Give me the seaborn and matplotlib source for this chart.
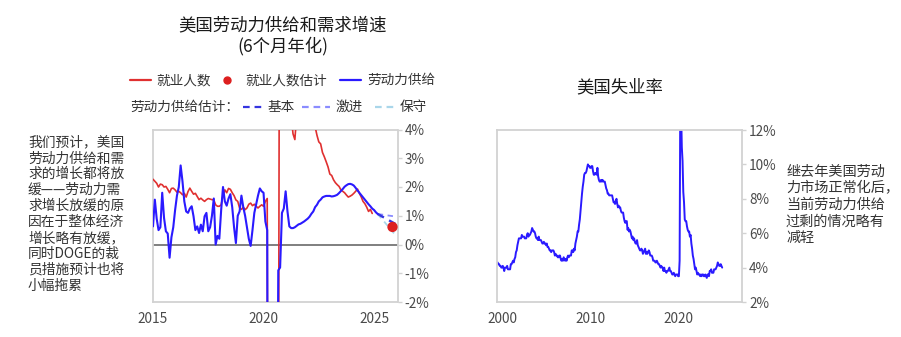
import numpy as np
import pandas as pd
import matplotlib
matplotlib.use("Agg")
import matplotlib.pyplot as plt
import seaborn as sns
from matplotlib.lines import Line2D
from matplotlib.ticker import FuncFormatter

# ---------------- data ----------------
# 6-month annualised payroll growth (%), monthly from 2015-01
employment = [
    2.27, 2.2, 2.13, 2.0, 2.1, 2.08, 2.0, 2.02, 1.92, 1.8, 1.95, 1.96,      # 2015
    1.9, 1.82, 1.85, 1.8, 1.73, 1.78, 1.65, 1.84, 1.96, 1.85, 1.75, 1.78,  # 2016
    1.67, 1.56, 1.61, 1.55, 1.5, 1.56, 1.6, 1.58, 1.56, 1.55, 1.38, 1.33,  # 2017
    1.33, 1.38, 1.7, 1.9, 1.8, 1.95, 1.92, 1.8, 1.7, 1.55, 1.5, 1.27,      # 2018
    1.22, 1.3, 1.21, 1.27, 1.4, 1.44, 1.35, 1.4, 1.33, 1.27, 1.33, 1.38,   # 2019
    1.33, 1.5, 1.6, -30, -28, -22, -18, -14, -10, 20, 14, 9,               # 2020
    7, 5.5, 4.8, 4.5, 3.85, 3.65, 4.5, 5.5, 5.0, 4.6, 5.0, 5.3,            # 2021
    5.3, 5.0, 4.7, 4.4, 4.1, 3.8, 3.57, 3.5, 3.2, 3.05, 2.88, 2.7,         # 2022
    2.45, 2.4, 2.25, 2.15, 2.08, 2.02, 1.9, 1.85, 1.8, 1.72, 1.65, 1.68,   # 2023
    1.72, 1.78, 1.85, 1.93, 1.78, 1.66, 1.5, 1.42, 1.3, 1.15, 1.22, 1.08,  # 2024
]
# 6-month annualised labour supply growth (%), monthly from 2015-01
labor_supply = [
    0.63, 1.56, 0.9, 0.5, 0.6, 1.8, 0.92, 0.46, 0.38, -0.46, 0.25, 0.6,    # 2015
    1.2, 1.7, 2.0, 2.75, 2.2, 1.5, 1.15, 1.1, 1.25, 1.33, 0.98, 0.5,       # 2016
    0.63, 0.4, 0.69, 0.46, 0.98, 1.1, 0.46, 0.6, 1.0, 1.6, 0.0, 0.3,       # 2017
    0.2, 1.2, 2.0, 1.5, 1.35, 1.6, 1.75, 1.3, 0.6, 0.05, 1.0, 1.15,        # 2018
    1.7, 1.3, 1.0, 0.6, 0.2, -0.05, 0.5, 1.1, 1.4, 1.7, 1.95, 1.85,        # 2019
    1.8, 0.8, 0.5, -30, -28, -22, -18, -14, -0.9, -0.8, 1.1, 1.25,         # 2020
    1.85, 1.15, 0.63, 0.57, 0.57, 0.6, 0.65, 0.7, 0.72, 0.76, 0.8, 0.85,   # 2021
    0.9, 0.97, 1.07, 1.15, 1.3, 1.38, 1.5, 1.56, 1.64, 1.67, 1.69, 1.69,   # 2022
    1.69, 1.67, 1.68, 1.7, 1.73, 1.79, 1.86, 1.93, 2.01, 2.06, 2.1, 2.11,  # 2023
    2.09, 2.05, 1.97, 1.88, 1.8, 1.72, 1.64, 1.56, 1.48, 1.4, 1.33, 1.25,  # 2024
    1.2, 1.12, 1.06,                                                        # 2025
]
# labour supply projections: start (2025-03) and end (2026-01)
proj_dates = ["2025-03", "2026-01"]
proj_base = [1.06, 0.70]
proj_aggressive = [1.06, 0.97]
proj_conservative = [1.06, 0.30]
# employment estimate
emp_est_date = "2025-11"
emp_est_value = 0.61

# US unemployment rate (%), monthly from 1999-07
unemployment = [
    4.3, 4.2, 4.2, 4.1, 4.1, 4.0,
    4.0, 4.1, 4.0, 3.8, 4.0, 4.0, 4.0, 4.1, 3.9, 3.9, 3.9, 3.9,
    4.2, 4.2, 4.3, 4.4, 4.3, 4.5, 4.6, 4.9, 5.0, 5.3, 5.5, 5.7,
    5.7, 5.7, 5.7, 5.9, 5.8, 5.8, 5.8, 5.7, 5.7, 5.7, 5.9, 6.0,
    5.8, 5.9, 5.9, 6.0, 6.1, 6.3, 6.2, 6.1, 6.1, 6.0, 5.8, 5.7,
    5.7, 5.6, 5.8, 5.6, 5.6, 5.6, 5.5, 5.4, 5.4, 5.5, 5.4, 5.4,
    5.3, 5.4, 5.2, 5.2, 5.1, 5.0, 5.0, 4.9, 5.0, 5.0, 5.0, 4.9,
    4.7, 4.8, 4.7, 4.7, 4.6, 4.6, 4.7, 4.7, 4.5, 4.4, 4.5, 4.4,
    4.6, 4.5, 4.4, 4.5, 4.4, 4.6, 4.7, 4.6, 4.7, 4.7, 4.7, 5.0,
    5.0, 4.9, 5.1, 5.0, 5.4, 5.6, 5.8, 6.1, 6.1, 6.5, 6.8, 7.3,
    7.8, 8.3, 8.7, 9.0, 9.4, 9.5, 9.5, 9.6, 9.8, 10.0, 9.9, 9.9,
    9.8, 9.8, 9.9, 9.9, 9.6, 9.4, 9.4, 9.5, 9.5, 9.4, 9.8, 9.3,
    9.1, 9.0, 9.0, 9.1, 9.0, 9.1, 9.0, 9.0, 9.0, 8.8, 8.6, 8.5,
    8.3, 8.3, 8.2, 8.2, 8.2, 8.2, 8.2, 8.0, 7.8, 7.8, 7.7, 7.9,
    8.0, 7.7, 7.5, 7.6, 7.5, 7.5, 7.3, 7.2, 7.2, 7.2, 6.9, 6.7,
    6.6, 6.7, 6.7, 6.2, 6.3, 6.1, 6.2, 6.1, 5.9, 5.7, 5.8, 5.6,
    5.7, 5.5, 5.4, 5.4, 5.6, 5.3, 5.2, 5.1, 5.0, 5.0, 5.1, 5.0,
    4.8, 4.9, 5.0, 5.1, 4.8, 4.9, 4.8, 4.9, 5.0, 4.9, 4.7, 4.7,
    4.7, 4.6, 4.4, 4.4, 4.4, 4.3, 4.3, 4.4, 4.3, 4.2, 4.2, 4.1,
    4.0, 4.1, 4.0, 4.0, 3.8, 4.0, 3.8, 3.8, 3.7, 3.8, 3.8, 3.9,
    4.0, 3.8, 3.8, 3.7, 3.6, 3.6, 3.7, 3.6, 3.5, 3.6, 3.6, 3.6,
    3.5, 3.5, 4.4, 14.8, 13.2, 11.0, 10.2, 8.4, 7.8, 6.8, 6.7, 6.7,
    6.4, 6.2, 6.1, 6.1, 5.8, 5.9, 5.4, 5.1, 4.7, 4.5, 4.2, 3.9,
    4.0, 3.8, 3.6, 3.7, 3.6, 3.6, 3.5, 3.6, 3.5, 3.6, 3.6, 3.5,
    3.5, 3.6, 3.5, 3.4, 3.6, 3.6, 3.5, 3.8, 3.8, 3.9, 3.7, 3.7,
    3.7, 3.9, 3.9, 3.9, 4.0, 4.1, 4.3, 4.2, 4.1, 4.1, 4.2, 4.1,
    4.0,
]

left_xticks = [2015, 2020, 2025]
left_yticks = [-2, -1, 0, 1, 2, 3, 4]
right_xticks = [2000, 2010, 2020]
right_yticks = [2, 4, 6, 8, 10, 12]

left_title = ["美国劳动力供给和需求增速", "(6个月年化)"]
right_title = "美国失业率"
left_note = ["我们预计，美国", "劳动力供给和需", "求的增长都将放", "缓——劳动力需",
             "求增长放缓的原", "因在于整体经济", "增长略有放缓，", "同时DOGE的裁",
             "员措施预计也将", "小幅拖累"]
right_note = ["继去年美国劳动", "力市场正常化后，", "当前劳动力供给", "过剩的情况略有", "减轻"]


def dec_year(start, n):
    d = pd.date_range(start, periods=n, freq="MS")
    return (d.year + (d.month - 1) / 12.0).values


def dec_of(s):
    d = pd.Timestamp(s)
    return d.year + (d.month - 1) / 12.0


# ---------------- style ----------------
sns.set_theme(style="white")
plt.rcParams["font.family"] = ["Noto Sans CJK SC", "DejaVu Sans"]

RED = "#e03030"
BLUE = "#2a1aff"
BASE = "#3535e0"
AGGR = "#8a8cff"
CONS = "#a9d6ea"
SPINE = "#d2d2d2"
TXT = "#1a1a1a"
TICK = "#4a4a4a"

W, H = 901, 337
fig = plt.figure(figsize=(W / 100, H / 100), dpi=100)


def fx(x):
    return x / W


def fy(y):
    return 1 - y / H


ax1 = fig.add_axes([fx(153), fy(302), (397.5 - 153) / W, (302 - 129.5) / H])
ax2 = fig.add_axes([fx(497), fy(302), (742 - 497) / W, (302 - 130) / H])

# ---- left chart ----
ax1.axhline(0, color="#6a6a6a", lw=1.2, zorder=1)
sns.lineplot(x=dec_year("2015-01-01", len(employment)), y=employment, ax=ax1,
             color=RED, lw=1.2, zorder=3)
sns.lineplot(x=dec_year("2015-01-01", len(labor_supply)), y=labor_supply, ax=ax1,
             color=BLUE, lw=1.5, zorder=4)
px = [dec_of(d) for d in proj_dates]
sns.lineplot(x=px, y=proj_conservative, ax=ax1, color=CONS, lw=1.3, linestyle=(0, (3, 2.5)), zorder=2)
sns.lineplot(x=px, y=proj_aggressive, ax=ax1, color=AGGR, lw=1.3, linestyle=(0, (3, 2.5)), zorder=2)
sns.lineplot(x=px, y=proj_base, ax=ax1, color=BASE, lw=1.7, linestyle=(0, (3, 2.5)), zorder=3)
sns.scatterplot(x=[dec_of(emp_est_date)], y=[emp_est_value], ax=ax1, color="#dd1f1f",
                s=55, edgecolor="none", zorder=6)

ax1.set_xlim(2015, 2026.06)
ax1.set_ylim(-2, 4)
ax1.set_xticks(left_xticks)
ax1.set_yticks(left_yticks)
ax1.yaxis.set_major_formatter(FuncFormatter(lambda v, p: f"{int(v)}%"))

# ---- right chart ----
sns.lineplot(x=dec_year("1999-07-01", len(unemployment)), y=unemployment, ax=ax2,
             color=BLUE, lw=1.4)
ax2.set_xlim(1999.43, 2027.25)
ax2.set_ylim(2, 12)
ax2.set_xticks(right_xticks)
ax2.set_yticks(right_yticks)
ax2.yaxis.set_major_formatter(FuncFormatter(lambda v, p: f"{int(v)}%"))

for ax in (ax1, ax2):
    ax.set_xlabel("")
    ax.set_ylabel("")
    ax.yaxis.tick_right()
    ax.tick_params(axis="both", which="major", direction="out", length=3, width=1,
                   color=SPINE, labelcolor=TICK, labelsize=9.8, pad=2)
    ax.tick_params(axis="x", pad=4)
    for s in ax.spines.values():
        s.set_visible(True)
        s.set_color(SPINE)
        s.set_linewidth(1.3)
    leg = ax.get_legend()
    if leg is not None:
        leg.remove()
    ax.set_facecolor("white")

# ---- titles ----
fig.text(fx(283), fy(25), left_title[0], ha="center", va="center",
         fontsize=12.5, color=TXT, fontweight="medium")
fig.text(fx(283), fy(46.5), left_title[1], ha="center", va="center", fontsize=12.5,
         color=TXT, fontweight="medium")
fig.text(fx(620), fy(87), right_title, ha="center", va="center", fontsize=12.5,
         color=TXT, fontweight="medium")

# ---- legend (figure level) ----
def leg_line(x0, x1, y, color, ls="-", lw=1.6):
    fig.add_artist(Line2D([fx(x0), fx(x1)], [fy(y), fy(y)], transform=fig.transFigure,
                          color=color, lw=lw, linestyle=ls))


def leg_text(x, y, s):
    fig.text(fx(x), fy(y), s, ha="left", va="center", fontsize=9.8, color="#333333")


r1, r2 = 80, 107
leg_line(130, 151, r1, RED)
leg_text(156, r1, "就业人数")
fig.add_artist(Line2D([fx(227)], [fy(r1)], transform=fig.transFigure, marker="o",
                      markersize=5, color="#dd1f1f", linestyle="none"))
leg_text(245, r1, "就业人数估计")
leg_line(340, 361, r1, BLUE)
leg_text(367, r1, "劳动力供给")

leg_text(130, r2, "劳动力供给估计：")
leg_line(243, 263, r2, BASE, ls=(0, (3, 2.2)))
leg_text(268, r2, "基本")
leg_line(302, 330, r2, AGGR, ls=(0, (3, 2.2)))
leg_text(335, r2, "激进")
leg_line(375, 395, r2, CONS, ls=(0, (3, 2.2)))
leg_text(400, r2, "保守")

# ---- side notes ----
for i, line in enumerate(left_note):
    fig.text(fx(28), fy(142.5 + i * 15.9), line, ha="left", va="center",
             fontsize=9.9, color="#333333")
for i, line in enumerate(right_note):
    fig.text(fx(786), fy(171.5 + i * 16.7), line, ha="left", va="center",
             fontsize=10.2, color="#333333")

fig.savefig("out.png", dpi=100, facecolor="white")
